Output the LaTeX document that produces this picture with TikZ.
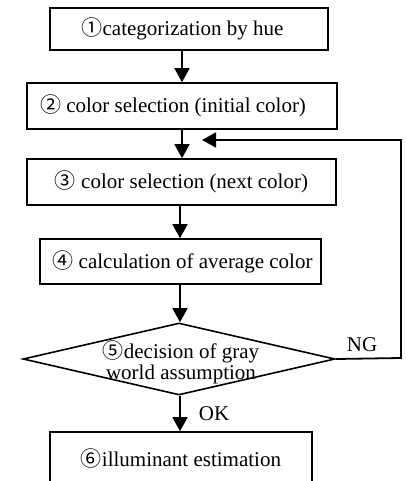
\documentclass[tikz,border=0pt]{standalone}
\usepackage{fontspec}
\setmainfont{Liberation Serif}
\newfontfamily\circfont{Noto Sans CJK JP}
\usetikzlibrary{arrows.meta,shapes.geometric}

% circled step numbers
\newcommand{\cnum}[1]{{\circfont #1}}

\begin{document}
\begin{tikzpicture}[x=1pt,y=-1pt,
  every node/.style={font=\fontsize{21}{21}\selectfont},
  stepbox/.style={draw, line width=1.6pt, inner sep=0pt},
  decision/.style={draw, diamond, line width=1.6pt, inner sep=0pt},
  flow/.style={line width=1.8pt, -{Triangle[width=15pt,length=14pt]}},
  loopline/.style={line width=1.8pt}]
\useasboundingbox (0,0) rectangle (406,481);

% process steps
\node[stepbox, minimum width=278pt, minimum height=42pt] (s1) at (189,29)
  {\cnum{①}categorization by hue\hspace*{13pt}};
\node[stepbox, minimum width=310pt, minimum height=46pt] (s2) at (182,106)
  {\cnum{②} color selection (initial color)\hspace*{18pt}};
\node[stepbox, minimum width=309pt, minimum height=46pt] (s3) at (181.5,182)
  {\cnum{③} color selection (next color)};
\node[stepbox, minimum width=281pt, minimum height=45pt] (s4) at (180.5,261.5)
  {\hspace*{4pt}\cnum{④} calculation of average color};
\node[decision, minimum width=312pt, minimum height=72pt] (s5) at (179,359) {};
\node[align=center, inner sep=0pt] (s5t) at (181,362)
  {\cnum{⑤}decision of gray\\world assumption};
\node[stepbox, minimum width=262pt, minimum height=54pt] (s6) at (181,459)
  {\cnum{⑥}illuminant estimation};

% main flow
\draw[flow] (s1.south -| 182,0) -- (s2.north -| 182,0);
\draw[flow] (s2.south -| 182,0) -- (s3.north -| 182,0);
\draw[flow] (s3.south -| 180,0) -- (s4.north -| 180,0);
\draw[flow] (s4.south -| 180,0) -- (s5.north -| 180,0);
\draw[flow] (s5.south -| 180,0) -- (s6.north -| 180,0);
\node[inner sep=0pt] (ok) at (214,414) {OK};

% feedback loop
\coordinate (loopin) at (202,140);
\draw[loopline, -{Triangle[width=15pt,length=14pt]}]
  (s5.east) -- (401,358) -- (401,140) -- (loopin);
\node[inner sep=0pt] (ng) at (362,345) {NG};
\end{tikzpicture}
\end{document}
